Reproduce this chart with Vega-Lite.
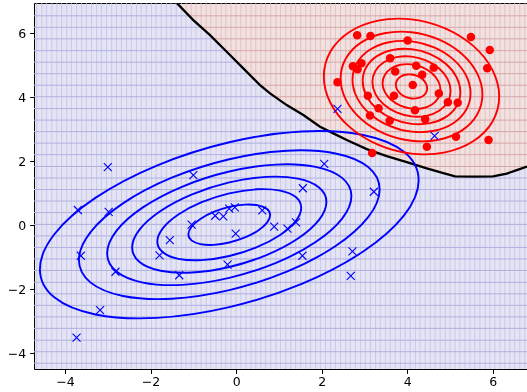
{
"$schema":"https://vega.github.io/schema/vega-lite/v6.json",
"width":493,"height":366,
"autosize":{"type":"none"},
"padding":{"left":34,"top":3,"right":0,"bottom":23},
"config":{"view":{"fill":"#e4e4f4","stroke":"#000000","strokeWidth":1},
 "axis":{"title":null,"domain":false,"grid":false,"format":"d","tickSize":4.4,"tickColor":"#000000","tickWidth":1,
  "labelFont":"DejaVu Sans","labelFontSize":12.5,"labelColor":"#000000","labelOverlap":false,"labelFlush":false,"labelBound":false},
 "axisX":{"labelPadding":2.5},"axisY":{"labelPadding":4}},
"datasets":{
"vg":[{"x":-4.66},{"x":-4.54},{"x":-4.43},{"x":-4.31},{"x":-4.19},{"x":-4.08},{"x":-3.96},{"x":-3.85},{"x":-3.73},{"x":-3.61},{"x":-3.5},{"x":-3.38},{"x":-3.26},{"x":-3.15},{"x":-3.03},{"x":-2.91},{"x":-2.8},{"x":-2.68},{"x":-2.56},{"x":-2.45},{"x":-2.33},{"x":-2.22},{"x":-2.1},{"x":-1.98},{"x":-1.87},{"x":-1.75},{"x":-1.63},{"x":-1.52},{"x":-1.4},{"x":-1.28},{"x":-1.17},{"x":-1.05},{"x":-0.94},{"x":-0.82},{"x":-0.7},{"x":-0.59},{"x":-0.47},{"x":-0.35},{"x":-0.24},{"x":-0.12},{"x":-0.004},{"x":0.11},{"x":0.23},{"x":0.35},{"x":0.46},{"x":0.58},{"x":0.69},{"x":0.81},{"x":0.93},{"x":1.04},{"x":1.16},{"x":1.28},{"x":1.39},{"x":1.51},{"x":1.63},{"x":1.74},{"x":1.86},{"x":1.97},{"x":2.09},{"x":2.21},{"x":2.32},{"x":2.44},{"x":2.56},{"x":2.67},{"x":2.79},{"x":2.91},{"x":3.02},{"x":3.14},{"x":3.26},{"x":3.37},{"x":3.49},{"x":3.6},{"x":3.72},{"x":3.84},{"x":3.95},{"x":4.07},{"x":4.19},{"x":4.3},{"x":4.42},{"x":4.54},{"x":4.65},{"x":4.77},{"x":4.89},{"x":5.0},{"x":5.12},{"x":5.23},{"x":5.35},{"x":5.47},{"x":5.58},{"x":5.7},{"x":5.82},{"x":5.93},{"x":6.05},{"x":6.17},{"x":6.28},{"x":6.4},{"x":6.51},{"x":6.63},{"x":6.75}],
"hg":[{"y":6.55},{"y":6.19},{"y":5.83},{"y":5.46},{"y":5.1},{"y":4.74},{"y":4.38},{"y":4.02},{"y":3.65},{"y":3.29},{"y":2.93},{"y":2.57},{"y":2.21},{"y":1.84},{"y":1.48},{"y":1.12},{"y":0.76},{"y":0.4},{"y":0.03},{"y":-0.33},{"y":-0.69},{"y":-1.05},{"y":-1.41},{"y":-1.78},{"y":-2.14},{"y":-2.5},{"y":-2.86},{"y":-3.22},{"y":-3.59},{"y":-3.95},{"y":-4.31}],
"boundary":[{"x":-1.389,"y":6.95},{"x":-1.001,"y":6.416},{"x":-0.61,"y":5.947},{"x":-0.22,"y":5.425},{"x":0.168,"y":4.906},{"x":0.559,"y":4.384},{"x":0.793,"y":4.125},{"x":1.183,"y":3.759},{"x":1.571,"y":3.447},{"x":1.962,"y":3.081},{"x":2.273,"y":2.875},{"x":2.586,"y":2.666},{"x":3.054,"y":2.384},{"x":3.521,"y":2.166},{"x":3.989,"y":1.978},{"x":4.456,"y":1.781},{"x":4.844,"y":1.634},{"x":5.118,"y":1.531},{"x":5.586,"y":1.525},{"x":6.007,"y":1.531},{"x":6.327,"y":1.619},{"x":6.561,"y":1.728},{"x":6.8,"y":1.838}],
"pts":[
{"k":"blue","x":-3.73,"y":-3.51},{"k":"blue","x":-3.18,"y":-2.65},{"k":"blue","x":-3.63,"y":-0.95},{"k":"blue","x":-2.82,"y":-1.45},{"k":"blue","x":-1.79,"y":-0.94},{"k":"blue","x":-1.55,"y":-0.46},{"k":"blue","x":-1.33,"y":-1.56},{"k":"blue","x":-0.2,"y":-1.23},{"k":"blue","x":-3.0,"y":1.82},{"k":"blue","x":-3.7,"y":0.48},{"k":"blue","x":-2.98,"y":0.42},{"k":"blue","x":-1.0,"y":1.57},{"k":"blue","x":-1.04,"y":0.02},{"k":"blue","x":-0.49,"y":0.3},{"k":"blue","x":-0.3,"y":0.28},{"k":"blue","x":-0.16,"y":0.52},{"k":"blue","x":-0.03,"y":0.56},{"k":"blue","x":-0.01,"y":-0.26},{"k":"blue","x":0.61,"y":0.47},{"k":"blue","x":0.89,"y":-0.04},{"k":"blue","x":2.06,"y":1.92},{"k":"blue","x":1.56,"y":1.16},{"k":"blue","x":3.22,"y":1.05},{"k":"blue","x":1.2,"y":-0.1},{"k":"blue","x":1.4,"y":0.09},{"k":"blue","x":1.55,"y":-0.95},{"k":"blue","x":2.72,"y":-0.81},{"k":"blue","x":2.68,"y":-1.58},{"k":"blue","x":2.37,"y":3.64},{"k":"blue","x":4.64,"y":2.8},
{"k":"red","x":2.83,"y":5.94},{"k":"red","x":3.14,"y":5.92},{"k":"red","x":4.01,"y":5.78},{"k":"red","x":5.49,"y":5.89},{"k":"red","x":5.93,"y":5.48},{"k":"red","x":5.87,"y":4.91},{"k":"red","x":2.73,"y":4.97},{"k":"red","x":2.84,"y":4.88},{"k":"red","x":2.93,"y":5.07},{"k":"red","x":3.6,"y":5.22},{"k":"red","x":4.21,"y":4.99},{"k":"red","x":4.62,"y":4.93},{"k":"red","x":3.72,"y":4.81},{"k":"red","x":4.35,"y":4.71},{"k":"red","x":2.37,"y":4.47},{"k":"red","x":4.13,"y":4.39},{"k":"red","x":4.74,"y":4.12},{"k":"red","x":3.08,"y":4.05},{"k":"red","x":3.69,"y":4.05},{"k":"red","x":4.95,"y":3.85},{"k":"red","x":5.18,"y":3.83},{"k":"red","x":3.33,"y":3.66},{"k":"red","x":4.18,"y":3.6},{"k":"red","x":3.13,"y":3.43},{"k":"red","x":3.59,"y":3.27},{"k":"red","x":4.42,"y":3.32},{"k":"red","x":5.14,"y":2.77},{"k":"red","x":5.9,"y":2.67},{"k":"red","x":4.46,"y":2.46},{"k":"red","x":3.18,"y":2.26}],
"contours":[
{"c":"b1","k":"blue","i":0,"x":4.267,"y":1.41},{"c":"b1","k":"blue","i":1,"x":3.93,"y":2.29},{"c":"b1","k":"blue","i":2,"x":2.97,"y":2.825},{"c":"b1","k":"blue","i":3,"x":1.534,"y":2.933},{"c":"b1","k":"blue","i":4,"x":-0.16,"y":2.597},{"c":"b1","k":"blue","i":5,"x":-1.854,"y":1.869},{"c":"b1","k":"blue","i":6,"x":-3.29,"y":0.859},{"c":"b1","k":"blue","i":7,"x":-4.25,"y":-0.278},{"c":"b1","k":"blue","i":8,"x":-4.587,"y":-1.37},{"c":"b1","k":"blue","i":9,"x":-4.25,"y":-2.25},{"c":"b1","k":"blue","i":10,"x":-3.29,"y":-2.785},{"c":"b1","k":"blue","i":11,"x":-1.854,"y":-2.893},{"c":"b1","k":"blue","i":12,"x":-0.16,"y":-2.557},{"c":"b1","k":"blue","i":13,"x":1.534,"y":-1.829},{"c":"b1","k":"blue","i":14,"x":2.97,"y":-0.819},{"c":"b1","k":"blue","i":15,"x":3.93,"y":0.318},
{"c":"b2","k":"blue","i":0,"x":3.355,"y":1.124},{"c":"b2","k":"blue","i":1,"x":3.087,"y":1.822},{"c":"b2","k":"blue","i":2,"x":2.325,"y":2.247},{"c":"b2","k":"blue","i":3,"x":1.185,"y":2.333},{"c":"b2","k":"blue","i":4,"x":-0.16,"y":2.066},{"c":"b2","k":"blue","i":5,"x":-1.505,"y":1.488},{"c":"b2","k":"blue","i":6,"x":-2.645,"y":0.686},{"c":"b2","k":"blue","i":7,"x":-3.407,"y":-0.217},{"c":"b2","k":"blue","i":8,"x":-3.675,"y":-1.084},{"c":"b2","k":"blue","i":9,"x":-3.407,"y":-1.782},{"c":"b2","k":"blue","i":10,"x":-2.645,"y":-2.207},{"c":"b2","k":"blue","i":11,"x":-1.505,"y":-2.293},{"c":"b2","k":"blue","i":12,"x":-0.16,"y":-2.026},{"c":"b2","k":"blue","i":13,"x":1.185,"y":-1.448},{"c":"b2","k":"blue","i":14,"x":2.325,"y":-0.646},{"c":"b2","k":"blue","i":15,"x":3.087,"y":0.257},
{"c":"b3","k":"blue","i":0,"x":2.695,"y":0.917},{"c":"b3","k":"blue","i":1,"x":2.478,"y":1.484},{"c":"b3","k":"blue","i":2,"x":1.859,"y":1.829},{"c":"b3","k":"blue","i":3,"x":0.933,"y":1.899},{"c":"b3","k":"blue","i":4,"x":-0.16,"y":1.682},{"c":"b3","k":"blue","i":5,"x":-1.253,"y":1.213},{"c":"b3","k":"blue","i":6,"x":-2.179,"y":0.561},{"c":"b3","k":"blue","i":7,"x":-2.798,"y":-0.172},{"c":"b3","k":"blue","i":8,"x":-3.015,"y":-0.877},{"c":"b3","k":"blue","i":9,"x":-2.798,"y":-1.444},{"c":"b3","k":"blue","i":10,"x":-2.179,"y":-1.789},{"c":"b3","k":"blue","i":11,"x":-1.253,"y":-1.859},{"c":"b3","k":"blue","i":12,"x":-0.16,"y":-1.642},{"c":"b3","k":"blue","i":13,"x":0.933,"y":-1.173},{"c":"b3","k":"blue","i":14,"x":1.859,"y":-0.521},{"c":"b3","k":"blue","i":15,"x":2.478,"y":0.212},
{"c":"b4","k":"blue","i":0,"x":2.111,"y":0.733},{"c":"b4","k":"blue","i":1,"x":1.938,"y":1.185},{"c":"b4","k":"blue","i":2,"x":1.446,"y":1.459},{"c":"b4","k":"blue","i":3,"x":0.709,"y":1.514},{"c":"b4","k":"blue","i":4,"x":-0.16,"y":1.342},{"c":"b4","k":"blue","i":5,"x":-1.029,"y":0.969},{"c":"b4","k":"blue","i":6,"x":-1.766,"y":0.45},{"c":"b4","k":"blue","i":7,"x":-2.258,"y":-0.133},{"c":"b4","k":"blue","i":8,"x":-2.431,"y":-0.693},{"c":"b4","k":"blue","i":9,"x":-2.258,"y":-1.145},{"c":"b4","k":"blue","i":10,"x":-1.766,"y":-1.419},{"c":"b4","k":"blue","i":11,"x":-1.029,"y":-1.474},{"c":"b4","k":"blue","i":12,"x":-0.16,"y":-1.302},{"c":"b4","k":"blue","i":13,"x":0.709,"y":-0.929},{"c":"b4","k":"blue","i":14,"x":1.446,"y":-0.41},{"c":"b4","k":"blue","i":15,"x":1.938,"y":0.173},
{"c":"b5","k":"blue","i":0,"x":1.522,"y":0.548},{"c":"b5","k":"blue","i":1,"x":1.394,"y":0.883},{"c":"b5","k":"blue","i":2,"x":1.029,"y":1.086},{"c":"b5","k":"blue","i":3,"x":0.484,"y":1.127},{"c":"b5","k":"blue","i":4,"x":-0.16,"y":0.999},{"c":"b5","k":"blue","i":5,"x":-0.804,"y":0.723},{"c":"b5","k":"blue","i":6,"x":-1.349,"y":0.339},{"c":"b5","k":"blue","i":7,"x":-1.714,"y":-0.093},{"c":"b5","k":"blue","i":8,"x":-1.842,"y":-0.508},{"c":"b5","k":"blue","i":9,"x":-1.714,"y":-0.843},{"c":"b5","k":"blue","i":10,"x":-1.349,"y":-1.046},{"c":"b5","k":"blue","i":11,"x":-0.804,"y":-1.087},{"c":"b5","k":"blue","i":12,"x":-0.16,"y":-0.959},{"c":"b5","k":"blue","i":13,"x":0.484,"y":-0.683},{"c":"b5","k":"blue","i":14,"x":1.029,"y":-0.299},{"c":"b5","k":"blue","i":15,"x":1.394,"y":0.133},
{"c":"b6","k":"blue","i":0,"x":0.796,"y":0.32},{"c":"b6","k":"blue","i":1,"x":0.723,"y":0.51},{"c":"b6","k":"blue","i":2,"x":0.516,"y":0.626},{"c":"b6","k":"blue","i":3,"x":0.206,"y":0.649},{"c":"b6","k":"blue","i":4,"x":-0.16,"y":0.577},{"c":"b6","k":"blue","i":5,"x":-0.526,"y":0.419},{"c":"b6","k":"blue","i":6,"x":-0.836,"y":0.201},{"c":"b6","k":"blue","i":7,"x":-1.043,"y":-0.044},{"c":"b6","k":"blue","i":8,"x":-1.116,"y":-0.28},{"c":"b6","k":"blue","i":9,"x":-1.043,"y":-0.47},{"c":"b6","k":"blue","i":10,"x":-0.836,"y":-0.586},{"c":"b6","k":"blue","i":11,"x":-0.526,"y":-0.609},{"c":"b6","k":"blue","i":12,"x":-0.16,"y":-0.537},{"c":"b6","k":"blue","i":13,"x":0.206,"y":-0.379},{"c":"b6","k":"blue","i":14,"x":0.516,"y":-0.161},{"c":"b6","k":"blue","i":15,"x":0.723,"y":0.084},
{"c":"r1","k":"red","i":0,"x":6.15,"y":4.027},{"c":"r1","k":"red","i":1,"x":5.994,"y":4.854},{"c":"r1","k":"red","i":2,"x":5.55,"y":5.602},{"c":"r1","k":"red","i":3,"x":4.885,"y":6.157},{"c":"r1","k":"red","i":4,"x":4.1,"y":6.437},{"c":"r1","k":"red","i":5,"x":3.315,"y":6.397},{"c":"r1","k":"red","i":6,"x":2.65,"y":6.044},{"c":"r1","k":"red","i":7,"x":2.206,"y":5.432},{"c":"r1","k":"red","i":8,"x":2.05,"y":4.653},{"c":"r1","k":"red","i":9,"x":2.206,"y":3.826},{"c":"r1","k":"red","i":10,"x":2.65,"y":3.078},{"c":"r1","k":"red","i":11,"x":3.315,"y":2.523},{"c":"r1","k":"red","i":12,"x":4.1,"y":2.243},{"c":"r1","k":"red","i":13,"x":4.885,"y":2.283},{"c":"r1","k":"red","i":14,"x":5.55,"y":2.636},{"c":"r1","k":"red","i":15,"x":5.994,"y":3.248},
{"c":"r2","k":"red","i":0,"x":5.758,"y":4.087},{"c":"r2","k":"red","i":1,"x":5.632,"y":4.756},{"c":"r2","k":"red","i":2,"x":5.273,"y":5.361},{"c":"r2","k":"red","i":3,"x":4.735,"y":5.81},{"c":"r2","k":"red","i":4,"x":4.1,"y":6.036},{"c":"r2","k":"red","i":5,"x":3.465,"y":6.004},{"c":"r2","k":"red","i":6,"x":2.927,"y":5.719},{"c":"r2","k":"red","i":7,"x":2.568,"y":5.223},{"c":"r2","k":"red","i":8,"x":2.442,"y":4.593},{"c":"r2","k":"red","i":9,"x":2.568,"y":3.924},{"c":"r2","k":"red","i":10,"x":2.927,"y":3.319},{"c":"r2","k":"red","i":11,"x":3.465,"y":2.87},{"c":"r2","k":"red","i":12,"x":4.1,"y":2.644},{"c":"r2","k":"red","i":13,"x":4.735,"y":2.676},{"c":"r2","k":"red","i":14,"x":5.273,"y":2.961},{"c":"r2","k":"red","i":15,"x":5.632,"y":3.457},
{"c":"r3","k":"red","i":0,"x":5.48,"y":4.129},{"c":"r3","k":"red","i":1,"x":5.375,"y":4.686},{"c":"r3","k":"red","i":2,"x":5.076,"y":5.189},{"c":"r3","k":"red","i":3,"x":4.628,"y":5.563},{"c":"r3","k":"red","i":4,"x":4.1,"y":5.751},{"c":"r3","k":"red","i":5,"x":3.572,"y":5.724},{"c":"r3","k":"red","i":6,"x":3.124,"y":5.487},{"c":"r3","k":"red","i":7,"x":2.825,"y":5.075},{"c":"r3","k":"red","i":8,"x":2.72,"y":4.551},{"c":"r3","k":"red","i":9,"x":2.825,"y":3.994},{"c":"r3","k":"red","i":10,"x":3.124,"y":3.491},{"c":"r3","k":"red","i":11,"x":3.572,"y":3.117},{"c":"r3","k":"red","i":12,"x":4.1,"y":2.929},{"c":"r3","k":"red","i":13,"x":4.628,"y":2.956},{"c":"r3","k":"red","i":14,"x":5.076,"y":3.193},{"c":"r3","k":"red","i":15,"x":5.375,"y":3.605},
{"c":"r4","k":"red","i":0,"x":5.242,"y":4.166},{"c":"r4","k":"red","i":1,"x":5.155,"y":4.626},{"c":"r4","k":"red","i":2,"x":4.908,"y":5.043},{"c":"r4","k":"red","i":3,"x":4.537,"y":5.352},{"c":"r4","k":"red","i":4,"x":4.1,"y":5.508},{"c":"r4","k":"red","i":5,"x":3.663,"y":5.486},{"c":"r4","k":"red","i":6,"x":3.292,"y":5.289},{"c":"r4","k":"red","i":7,"x":3.045,"y":4.948},{"c":"r4","k":"red","i":8,"x":2.958,"y":4.514},{"c":"r4","k":"red","i":9,"x":3.045,"y":4.054},{"c":"r4","k":"red","i":10,"x":3.292,"y":3.637},{"c":"r4","k":"red","i":11,"x":3.663,"y":3.328},{"c":"r4","k":"red","i":12,"x":4.1,"y":3.172},{"c":"r4","k":"red","i":13,"x":4.537,"y":3.194},{"c":"r4","k":"red","i":14,"x":4.908,"y":3.391},{"c":"r4","k":"red","i":15,"x":5.155,"y":3.732},
{"c":"r5","k":"red","i":0,"x":5.014,"y":4.2},{"c":"r5","k":"red","i":1,"x":4.945,"y":4.569},{"c":"r5","k":"red","i":2,"x":4.747,"y":4.903},{"c":"r5","k":"red","i":3,"x":4.45,"y":5.15},{"c":"r5","k":"red","i":4,"x":4.1,"y":5.275},{"c":"r5","k":"red","i":5,"x":3.75,"y":5.257},{"c":"r5","k":"red","i":6,"x":3.453,"y":5.1},{"c":"r5","k":"red","i":7,"x":3.255,"y":4.827},{"c":"r5","k":"red","i":8,"x":3.186,"y":4.48},{"c":"r5","k":"red","i":9,"x":3.255,"y":4.111},{"c":"r5","k":"red","i":10,"x":3.453,"y":3.777},{"c":"r5","k":"red","i":11,"x":3.75,"y":3.53},{"c":"r5","k":"red","i":12,"x":4.1,"y":3.405},{"c":"r5","k":"red","i":13,"x":4.45,"y":3.423},{"c":"r5","k":"red","i":14,"x":4.747,"y":3.58},{"c":"r5","k":"red","i":15,"x":4.945,"y":3.853},
{"c":"r6","k":"red","i":0,"x":4.777,"y":4.237},{"c":"r6","k":"red","i":1,"x":4.725,"y":4.51},{"c":"r6","k":"red","i":2,"x":4.579,"y":4.756},{"c":"r6","k":"red","i":3,"x":4.359,"y":4.94},{"c":"r6","k":"red","i":4,"x":4.1,"y":5.032},{"c":"r6","k":"red","i":5,"x":3.841,"y":5.019},{"c":"r6","k":"red","i":6,"x":3.621,"y":4.902},{"c":"r6","k":"red","i":7,"x":3.475,"y":4.7},{"c":"r6","k":"red","i":8,"x":3.423,"y":4.443},{"c":"r6","k":"red","i":9,"x":3.475,"y":4.17},{"c":"r6","k":"red","i":10,"x":3.621,"y":3.924},{"c":"r6","k":"red","i":11,"x":3.841,"y":3.74},{"c":"r6","k":"red","i":12,"x":4.1,"y":3.648},{"c":"r6","k":"red","i":13,"x":4.359,"y":3.661},{"c":"r6","k":"red","i":14,"x":4.579,"y":3.778},{"c":"r6","k":"red","i":15,"x":4.725,"y":3.98},
{"c":"r7","k":"red","i":0,"x":4.467,"y":4.284},{"c":"r7","k":"red","i":1,"x":4.439,"y":4.432},{"c":"r7","k":"red","i":2,"x":4.36,"y":4.566},{"c":"r7","k":"red","i":3,"x":4.241,"y":4.665},{"c":"r7","k":"red","i":4,"x":4.1,"y":4.715},{"c":"r7","k":"red","i":5,"x":3.959,"y":4.708},{"c":"r7","k":"red","i":6,"x":3.84,"y":4.645},{"c":"r7","k":"red","i":7,"x":3.761,"y":4.535},{"c":"r7","k":"red","i":8,"x":3.733,"y":4.396},{"c":"r7","k":"red","i":9,"x":3.761,"y":4.248},{"c":"r7","k":"red","i":10,"x":3.84,"y":4.114},{"c":"r7","k":"red","i":11,"x":3.959,"y":4.015},{"c":"r7","k":"red","i":12,"x":4.1,"y":3.965},{"c":"r7","k":"red","i":13,"x":4.241,"y":3.975},{"c":"r7","k":"red","i":14,"x":4.36,"y":4.035},{"c":"r7","k":"red","i":15,"x":4.439,"y":4.145}
]},
"layer":[
{"data":{"name":"vg"},"mark":{"type":"rule","color":"#c2c2ea","strokeWidth":0.8},
 "encoding":{"x":{"field":"x","type":"quantitative","scale":{"domain":[-4.725,6.8],"nice":false,"zero":false},"axis":{"values":[-4,-2,0,2,4,6]}}}},
{"data":{"name":"hg"},"mark":{"type":"rule","color":"#b0b0e0","strokeWidth":1},
 "encoding":{"y":{"field":"y","type":"quantitative","scale":{"domain":[-4.49,6.95],"nice":false,"zero":false},"axis":{"values":[-4,-2,0,2,4,6]}}}},
{"data":{"name":"boundary"},"mark":{"type":"area","color":"#ff0000","blend":"hue","opacity":1,"clip":false},
 "encoding":{"x":{"field":"x","type":"quantitative","scale":{"domain":[-4.725,6.8],"nice":false,"zero":false}},
  "y":{"field":"y","type":"quantitative","scale":{"domain":[-4.49,6.95],"nice":false,"zero":false}},"y2":{"datum":6.95}}},
{"data":{"name":"boundary"},"mark":{"type":"line","color":"#000000","strokeWidth":2.3,"clip":true},
 "encoding":{"x":{"field":"x","type":"quantitative","scale":{"domain":[-4.725,6.8],"nice":false,"zero":false}},
  "y":{"field":"y","type":"quantitative","scale":{"domain":[-4.49,6.95],"nice":false,"zero":false}}}},
{"data":{"name":"contours"},"mark":{"type":"line","interpolate":"cardinal-closed","strokeWidth":1.9,"clip":true},
 "encoding":{"x":{"field":"x","type":"quantitative","scale":{"domain":[-4.725,6.8],"nice":false,"zero":false}},
  "y":{"field":"y","type":"quantitative","scale":{"domain":[-4.49,6.95],"nice":false,"zero":false}},
  "detail":{"field":"c","type":"nominal"},"order":{"field":"i","type":"quantitative"},
  "color":{"field":"k","type":"nominal","scale":{"domain":["blue","red"],"range":["#0000ff","#ff0000"]},"legend":null}}},
{"data":{"name":"pts"},"transform":[{"filter":"datum.k === 'blue'"}],"mark":{"type":"point","shape":"M-1,-1L1,1M-1,1L1,-1","size":64,"filled":false,"stroke":"#0000ff","strokeWidth":1.1,"opacity":1},
 "encoding":{"x":{"field":"x","type":"quantitative","scale":{"domain":[-4.725,6.8],"nice":false,"zero":false}},
  "y":{"field":"y","type":"quantitative","scale":{"domain":[-4.49,6.95],"nice":false,"zero":false}}}},
{"data":{"name":"pts"},"transform":[{"filter":"datum.k === 'red'"}],"mark":{"type":"circle","size":72,"color":"#ff0000","opacity":1},
 "encoding":{"x":{"field":"x","type":"quantitative","scale":{"domain":[-4.725,6.8],"nice":false,"zero":false}},
  "y":{"field":"y","type":"quantitative","scale":{"domain":[-4.49,6.95],"nice":false,"zero":false}}}}
]
}
